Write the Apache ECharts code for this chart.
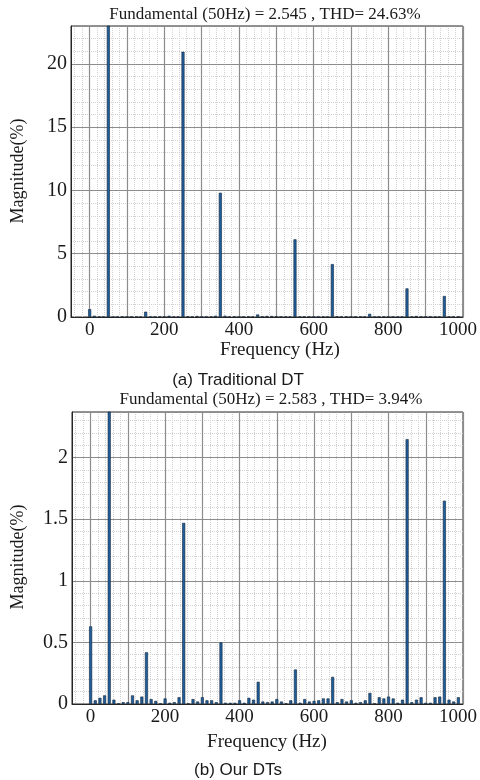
<!DOCTYPE html>
<html>
<head>
<meta charset="utf-8">
<script src="https://cdn.jsdelivr.net/npm/echarts@6/dist/echarts.min.js"></script>
<style>html,body{margin:0;padding:0;background:#fff;}#c{width:480px;height:780px;}</style>
</head>
<body>
<div id="c"></div>
<script>
var freqs = [0,12.5,25,37.5,50,62.5,75,87.5,100,112.5,125,137.5,150,162.5,175,187.5,200,212.5,225,237.5,250,262.5,275,287.5,300,312.5,325,337.5,350,362.5,375,387.5,400,412.5,425,437.5,450,462.5,475,487.5,500,512.5,525,537.5,550,562.5,575,587.5,600,612.5,625,637.5,650,662.5,675,687.5,700,712.5,725,737.5,750,762.5,775,787.5,800,812.5,825,837.5,850,862.5,875,887.5,900,912.5,925,937.5,950,962.5,975,987.5];
var magTraditional = [
 0.62,0.10,0.03,0.03,100,0.03,0.02,0.02,
 0.03,0.02,0.03,0.02,0.42,0.05,0.02,0.03,
 0.03,0.10,0.03,0.03,20.96,0.06,0.03,0.08,
 0.02,0.02,0.03,0.10,9.82,0.10,0.03,0.03,
 0.02,0.02,0.05,0.03,0.20,0.06,0.08,0.08,
 0.06,0.03,0.05,0.03,6.14,0.03,0.03,0.03,
 0.03,0.02,0.05,0.03,4.18,0.06,0.03,0.03,
 0.03,0.03,0.03,0.03,0.25,0.03,0.03,0.03,
 0.03,0.02,0.03,0.03,2.26,0.03,0.08,0.05,
 0.03,0.03,0.03,0.05,1.66,0.05,0.03,0.03];
var magOurs = [
 0.63,0.03,0.05,0.07,100,0.035,0.005,0.015,
 0.015,0.07,0.03,0.06,0.42,0.04,0.025,0.005,
 0.045,0.01,0.015,0.055,1.47,0.005,0.04,0.02,
 0.055,0.03,0.03,0.015,0.5,0.01,0.01,0.01,
 0.03,0.01,0.05,0.035,0.18,0.02,0.015,0.02,
 0.04,0.02,0.005,0.03,0.28,0.01,0.04,0.02,
 0.025,0.03,0.045,0.045,0.22,0.015,0.04,0.02,
 0.03,0.01,0.015,0.03,0.09,0.005,0.055,0.045,
 0.06,0.045,0.01,0.035,2.15,0.015,0.035,0.055,
 0.01,0.01,0.055,0.06,1.65,0.035,0.02,0.055];
var xTickLabels = [0,200,400,600,800,1000];
var yTicksTop = [0,5,10,15,20];
var yTicksBottom = [0,0.5,1,1.5,2];
var titleTop = 'Fundamental (50Hz) = 2.545 , THD= 24.63%';
var titleBottom = 'Fundamental (50Hz) = 2.583 , THD= 3.94%';

var serif = 'Liberation Serif, Times New Roman, serif';
var sans = 'Liberation Sans, Arial, sans-serif';
var majorColor = '#8c8c8c';
var minorColor = '#d2d2d2';

function pairs(vals){ return freqs.map(function(f,i){ return [f, vals[i]]; }); }

function xData(gi){
  return {
    gridIndex: gi, type: 'value', min: -50, max: 1000, interval: 50, z: 2,
    axisLine: {show: true, onZero: false, lineStyle: {color: '#262626', width: 1}},
    axisTick: {show: false},
    axisLabel: {
      margin: 4, color: '#1a1a1a', fontFamily: serif, fontSize: 19,
      formatter: function(v){
        if (xTickLabels.indexOf(v) < 0) return '';
        if (v === 1000) return '{r|' + v + '}';
        return String(v);
      },
      rich: {r: {fontFamily: serif, fontSize: 19, color: '#1a1a1a', padding: [0, 10, 0, 0]}}
    },
    splitLine: {show: true, lineStyle: {color: ['transparent', majorColor], width: 1.2}}
  };
}
function xMinor(gi){
  return {
    gridIndex: gi, type: 'value', min: -50, max: 1000, interval: 10, z: 1, position: 'bottom',
    axisLine: {show: false, onZero: false}, axisTick: {show: false}, axisLabel: {show: false},
    splitLine: {show: true, lineStyle: {color: ['transparent', minorColor], width: 1, type: 'dotted'}}
  };
}
function yData(gi, max, interval, ticks){
  return {
    gridIndex: gi, type: 'value', min: 0, max: max, interval: interval, z: 2,
    axisLine: {show: true, onZero: false, lineStyle: {color: '#262626', width: 1}},
    axisTick: {show: false},
    axisLabel: {
      margin: 4, color: '#1a1a1a', fontFamily: serif, fontSize: 20,
      formatter: function(v){
        for (var i = 0; i < ticks.length; i++) if (Math.abs(ticks[i] - v) < 1e-9) return String(ticks[i]);
        return '';
      }
    },
    splitLine: {show: true, lineStyle: {color: majorColor, width: 1.2}}
  };
}
function yMinor(gi, max, interval){
  return {
    gridIndex: gi, type: 'value', min: 0, max: max, interval: interval, z: 1, position: 'left',
    axisLine: {show: false, onZero: false}, axisTick: {show: false}, axisLabel: {show: false},
    splitLine: {show: true, lineStyle: {color: minorColor, width: 1, type: 'dotted'}}
  };
}
function barSeries(xi, yi, vals){
  return {
    type: 'bar', xAxisIndex: xi, yAxisIndex: yi, data: pairs(vals), barWidth: 3, clip: true, z: 3,
    itemStyle: {color: '#1f5e9c', borderColor: '#14263a', borderWidth: 0.6}
  };
}
function txt(x, y, s, font, size, rot){
  return {type: 'text', x: x, y: y, rotation: rot || 0, z: 10,
    style: {text: s, font: size + 'px ' + font, fill: '#1a1a1a', align: 'center', verticalAlign: 'middle'}};
}

var chart = echarts.init(document.getElementById('c'), null, {renderer: 'canvas'});
chart.setOption({
  animation: false,
  backgroundColor: '#ffffff',
  grid: [
    {left: 71, top: 26, width: 392, height: 291, show: true, borderColor: '#262626', borderWidth: 1, backgroundColor: 'transparent'},
    {left: 72, top: 412, width: 391, height: 292, show: true, borderColor: '#262626', borderWidth: 1, backgroundColor: 'transparent'}
  ],
  xAxis: [xData(0), xMinor(0), xData(1), xMinor(1)],
  yAxis: [yData(0, 23, 5, yTicksTop), yMinor(0, 23, 1), yData(1, 2.37, 0.5, yTicksBottom), yMinor(1, 2.37, 0.1)],
  series: [barSeries(0, 0, magTraditional), barSeries(2, 2, magOurs)],
  graphic: [
    txt(265, 15, titleTop, serif, 17),
    txt(18, 171, 'Magnitude(%)', serif, 18, Math.PI / 2),
    txt(280, 350, 'Frequency (Hz)', serif, 19),
    txt(238, 380, '(a) Traditional DT', sans, 17),
    txt(271, 400, titleBottom, serif, 17),
    txt(18, 557, 'Magnitude(%)', serif, 18, Math.PI / 2),
    txt(267, 742, 'Frequency (Hz)', serif, 19),
    txt(238, 770, '(b) Our DTs', sans, 17)
  ]
});
</script>
</body>
</html>
